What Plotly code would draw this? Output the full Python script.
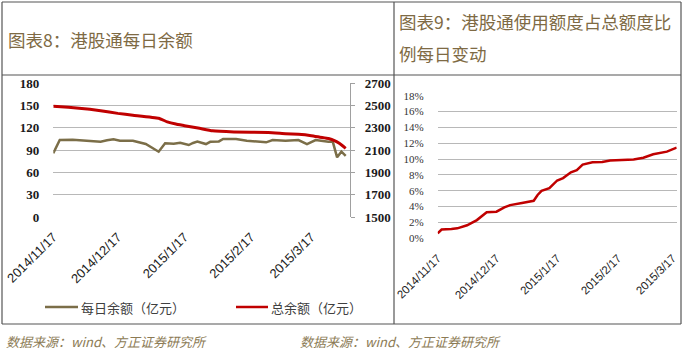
import plotly.graph_objects as go

# ---------------- data ----------------
daily_dates = ["2014-11-17", "2014-11-20", "2014-11-26", "2014-12-01", "2014-12-04", "2014-12-09",
               "2014-12-12", "2014-12-15", "2014-12-18", "2014-12-22", "2014-12-24", "2014-12-30",
               "2015-01-05", "2015-01-08", "2015-01-12", "2015-01-15", "2015-01-19", "2015-01-21",
               "2015-01-23", "2015-01-27", "2015-01-29", "2015-02-02", "2015-02-04", "2015-02-10",
               "2015-02-15", "2015-02-24", "2015-02-27", "2015-03-05", "2015-03-11", "2015-03-15",
               "2015-03-19", "2015-03-25", "2015-03-27", "2015-03-29", "2015-03-31", "2015-04-02"]
daily_vals = [85.6, 103.4, 103.8, 102.8, 102.1, 101.2,
              103.0, 104.3, 102.5, 103.0, 102.5, 98.0,
              87.7, 99.0, 98.5, 99.8, 96.7, 99.5,
              101.2, 98.0, 101.0, 101.5, 104.8, 104.8,
              102.5, 100.3, 103.4, 102.5, 103.4, 98.0,
              103.4, 101.2, 101.0, 80.2, 87.7, 82.0]

total_dates = ["2014-11-17", "2014-11-24", "2014-12-04", "2014-12-09", "2014-12-17", "2014-12-24",
               "2015-01-05", "2015-01-09", "2015-01-13", "2015-01-17", "2015-01-24", "2015-01-30",
               "2015-02-09", "2015-02-25", "2015-03-05", "2015-03-11", "2015-03-17", "2015-03-21",
               "2015-03-25", "2015-03-28", "2015-03-30", "2015-04-02"]
total_vals = [2492, 2482, 2464, 2452, 2428, 2412,
              2385, 2352, 2332, 2318, 2294, 2272,
              2262, 2256, 2246, 2240, 2228, 2215,
              2203, 2182, 2160, 2115]

ratio_dates = ["2014-11-17", "2014-11-19", "2014-11-24", "2014-11-27", "2014-12-02", "2014-12-07",
               "2014-12-12", "2014-12-17", "2014-12-21", "2014-12-24", "2014-12-30", "2015-01-05",
               "2015-01-07", "2015-01-09", "2015-01-13", "2015-01-17", "2015-01-20", "2015-01-24",
               "2015-01-27", "2015-01-30", "2015-02-04", "2015-02-09", "2015-02-13", "2015-02-25",
               "2015-03-02", "2015-03-07", "2015-03-14", "2015-03-19"]
ratio_vals = [0.63, 1.10, 1.18, 1.26, 1.64, 2.30,
              3.30, 3.36, 3.90, 4.19, 4.45, 4.74,
              5.47, 5.98, 6.32, 7.30, 7.60, 8.33,
              8.60, 9.30, 9.60, 9.62, 9.83, 9.96,
              10.17, 10.60, 10.94, 11.45]

x_tick_vals = ["2014-11-17", "2014-12-17", "2015-01-17", "2015-02-17", "2015-03-17"]
x_tick_text = ["2014/11/17", "2014/12/17", "2015/1/17", "2015/2/17", "2015/3/17"]

title_left = "图表8：港股通每日余额"
title_right_1 = "图表9：港股通使用额度占总额度比"
title_right_2 = "例每日变动"
legend_names = ["每日余额（亿元）", "总余额（亿元）"]
source_text = "数据来源：wind、方正证券研究所"

# ---------------- styling ----------------
W, H = 683, 354
OLIVE = "#7b6e48"
RED = "#c00000"
GRID = "#b8b8b8"
BORDER = "#555555"
TITLE_C = "#7e6a44"
SRC_C = "#8c7b55"
CJK = "Noto Sans CJK SC"


def px(x):
    return x / W


def py(y):
    return 1 - y / H


fig = go.Figure()
fig.add_trace(go.Scatter(x=daily_dates, y=daily_vals, mode="lines", name=legend_names[0],
                         line=dict(color=OLIVE, width=2.5), xaxis="x", yaxis="y", showlegend=False))
fig.add_trace(go.Scatter(x=total_dates, y=total_vals, mode="lines", name=legend_names[1],
                         line=dict(color=RED, width=3, shape="spline", smoothing=0.4),
                         xaxis="x", yaxis="y2", showlegend=False))
fig.add_trace(go.Scatter(x=ratio_dates, y=ratio_vals, mode="lines", name="ratio",
                         line=dict(color=RED, width=2.5), xaxis="x3", yaxis="y3", showlegend=False))

tick_font_x = dict(family="Liberation Sans", size=13, color="#222222")
serif_bold = dict(family="Liberation Serif", size=13, color="#1a1a1a", weight="bold")

fig.update_layout(
    width=W, height=H, margin=dict(l=0, r=0, t=0, b=0, autoexpand=False),
    paper_bgcolor="white", plot_bgcolor="white",
    xaxis=dict(domain=[px(53.3), px(350)], type="date", range=["2014-11-17", "2015-04-04"],
               tickvals=x_tick_vals, ticktext=x_tick_text, tickangle=-45, showgrid=False,
               showline=False, zeroline=False, ticks="", tickfont=tick_font_x,
               ticklabelstandoff=9, anchor="y", automargin=False),
    yaxis=dict(domain=[py(217), py(83)], range=[0, 180], tick0=0, dtick=30, showgrid=True,
               gridcolor=GRID, gridwidth=1.4, zeroline=False, showline=False, ticks="",
               tickfont=serif_bold, ticklabelstandoff=13, anchor="x", automargin=False),
    yaxis2=dict(overlaying="y", side="right", anchor="x", range=[1500, 2700], tick0=1500, dtick=200,
                showgrid=False, zeroline=False, showline=True, linecolor="#a0a0a0", linewidth=1.3,
                ticks="outside", ticklen=4, tickcolor="#a0a0a0", tickwidth=1.3,
                tickfont=serif_bold, ticklabelstandoff=7, automargin=False),
    xaxis3=dict(domain=[px(437.7), px(676.7)], type="date", range=["2014-11-17", "2015-03-19"],
                tickvals=x_tick_vals, ticktext=x_tick_text, tickangle=-45, showgrid=False,
                showline=False, zeroline=False, ticks="",
                tickfont=dict(family="Liberation Sans", size=11.5, color="#222222"),
                ticklabelstandoff=10, anchor="y3", automargin=False),
    yaxis3=dict(domain=[py(238.3), py(95.7)], range=[0, 18], tick0=0, dtick=2, ticksuffix="%",
                showgrid=True, gridcolor=GRID, gridwidth=1.4, zeroline=False, showline=False,
                ticks="", tickfont=dict(family="Liberation Serif", size=11, color="#333333"),
                ticklabelstandoff=13, anchor="x3", automargin=False),
)

# table borders
shapes = []
def hline(y, x0, x1):
    shapes.append(dict(type="line", xref="paper", yref="paper", x0=px(x0), x1=px(x1),
                       y0=py(y), y1=py(y), line=dict(color=BORDER, width=1.2)))
def vline(x, y0, y1):
    shapes.append(dict(type="line", xref="paper", yref="paper", x0=px(x), x1=px(x),
                       y0=py(y0), y1=py(y1), line=dict(color=BORDER, width=1.2)))

hline(2, 2, 681)
hline(75, 2, 681)
hline(324, 2, 681)
vline(2, 2, 324)
vline(394, 2, 324)
vline(681, 2, 324)

# legend samples
shapes.append(dict(type="line", xref="paper", yref="paper", x0=px(45), x1=px(78), y0=py(307), y1=py(307),
                   line=dict(color=OLIVE, width=2.5)))
shapes.append(dict(type="line", xref="paper", yref="paper", x0=px(236), x1=px(268), y0=py(307), y1=py(307),
                   line=dict(color=RED, width=2.5)))
fig.update_layout(shapes=shapes)

ann = []
def text(x, y, s, size, color, xanchor="left", italic=False):
    ann.append(dict(xref="paper", yref="paper", x=px(x), y=py(y), text=(f"<i>{s}</i>" if italic else s),
                    showarrow=False, xanchor=xanchor, yanchor="middle",
                    font=dict(family=CJK, size=size, color=color)))

text(6, 40, title_left, 17.5, TITLE_C)
text(397, 22, title_right_1, 17.5, TITLE_C)
text(397, 53, title_right_2, 17.5, TITLE_C)
text(79, 307, legend_names[0], 13, "#404040")
text(269, 307, legend_names[1], 13, "#404040")
text(4, 341, source_text, 13, SRC_C, italic=True)
text(298, 341, source_text, 13, SRC_C, italic=True)
fig.update_layout(annotations=ann)

fig.write_html("out.html")
